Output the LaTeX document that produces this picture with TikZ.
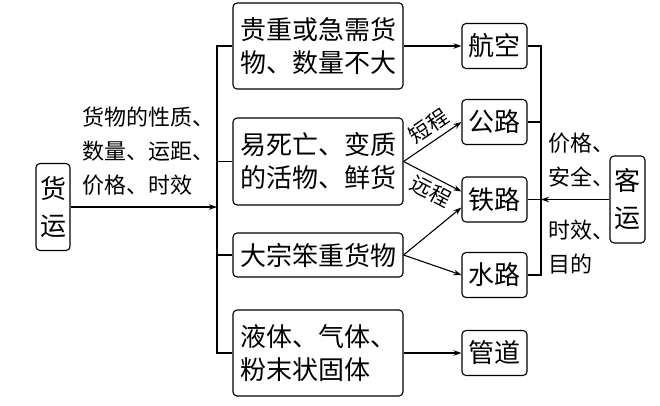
\documentclass[tikz,border=0pt]{standalone}
\usepackage{fontspec}
\newfontfamily\cjk{Noto Sans CJK SC}
\usetikzlibrary{arrows.meta}

\begin{document}
\begin{tikzpicture}[x=1pt, y=-1pt, line width=1.1pt,
                    box/.style={draw, rounded corners=4pt, inner sep=0pt,
                                  align=left, font=\cjk\fontsize{26}{33}\selectfont},
                    tag/.style={inner sep=3pt, align=left,
                                  font=\cjk\fontsize{22}{34}\selectfont},
                    >={Stealth[length=8pt, width=5.5pt]}]
                      \useasboundingbox (0,0) rectangle (660,405);

                      % goods and passengers
                      \node[box, minimum width=34, minimum height=87, align=center,
                            font=\cjk\fontsize{26}{37}\selectfont] (huoyun) at (53,207) {货\\运};
                      \node[box, minimum width=35, minimum height=87, align=center,
                            font=\cjk\fontsize{26}{37}\selectfont] (keyun) at (627.5,199.5) {客\\运};

                      % kinds of goods
                      \foreach \n/\y/\h/\t in {g1/46/86/{贵重或急需货\\物、数量不大},
                              g2/161.5/87/{易死亡、变质\\的活物、鲜货},
                              g3/255/44/{大宗笨重货物},
                              g4/353/86/{液体、气体、\\粉末状固体}} {
                              \node[box, minimum width=170, minimum height=\h] (\n) at (318,\y) {\t};
                          }

                      % modes of transport
                      \foreach \n/\t/\y in {air/航空/46, road/公路/122, rail/铁路/199.5,
                              water/水路/275, pipe/管道/353} {
                              \node[box, minimum width=65, minimum height=45] (\n) at (494.5,\y) {\t};
                          }

                      \node[tag, anchor=west] (why) at (79,151) {货物的性质、\\数量、运距、\\价格、时效};
                      \node[tag, anchor=west] (cost) at (545,160) {价格、\\安全、};
                      \node[tag, anchor=west] (time) at (545,247) {时效、\\目的};

                      % left trunk
                      \coordinate (hub) at (217,207);
                      \draw[->] (huoyun.east) -- (hub);
                      \draw (g1.west) -- (g1.west -| hub) -- (g4.west -| hub) -- (g4.west);
                      \foreach \n in {g2, g3} {
                              \draw (\n.west) -- (\n.west -| hub);
                          }

                      \draw[->] (g1) -- (air);
                      \draw[->] (g4) -- (pipe);
                      \draw[->] (g2.east) -- (road.west)
                          node[tag, pos=0.58, above=2pt, sloped, font=\cjk\fontsize{21}{25}\selectfont] (short) {短程};
                      \draw[->] (g2.east) -- ([yshift=8pt]rail.west)
                          node[tag, pos=0.58, below=1pt, sloped, font=\cjk\fontsize{21}{25}\selectfont] (far) {远程};
                      \draw[->] (g3.east) -- ([yshift=-8pt]rail.west);
                      \draw[->] (g3.east) -- (water.west);

                      % right trunk
                      \coordinate (rhub) at (541,199.5);
                      \draw (air.east) -- (air.east -| rhub) -- (water.east -| rhub) -- (water.east);
                      \foreach \n in {road, rail} {
                              \draw (\n.east) -- (\n.east -| rhub);
                          }
                      \draw[->] (keyun.west) -- (rhub);
                  \end{tikzpicture}
\end{document}
